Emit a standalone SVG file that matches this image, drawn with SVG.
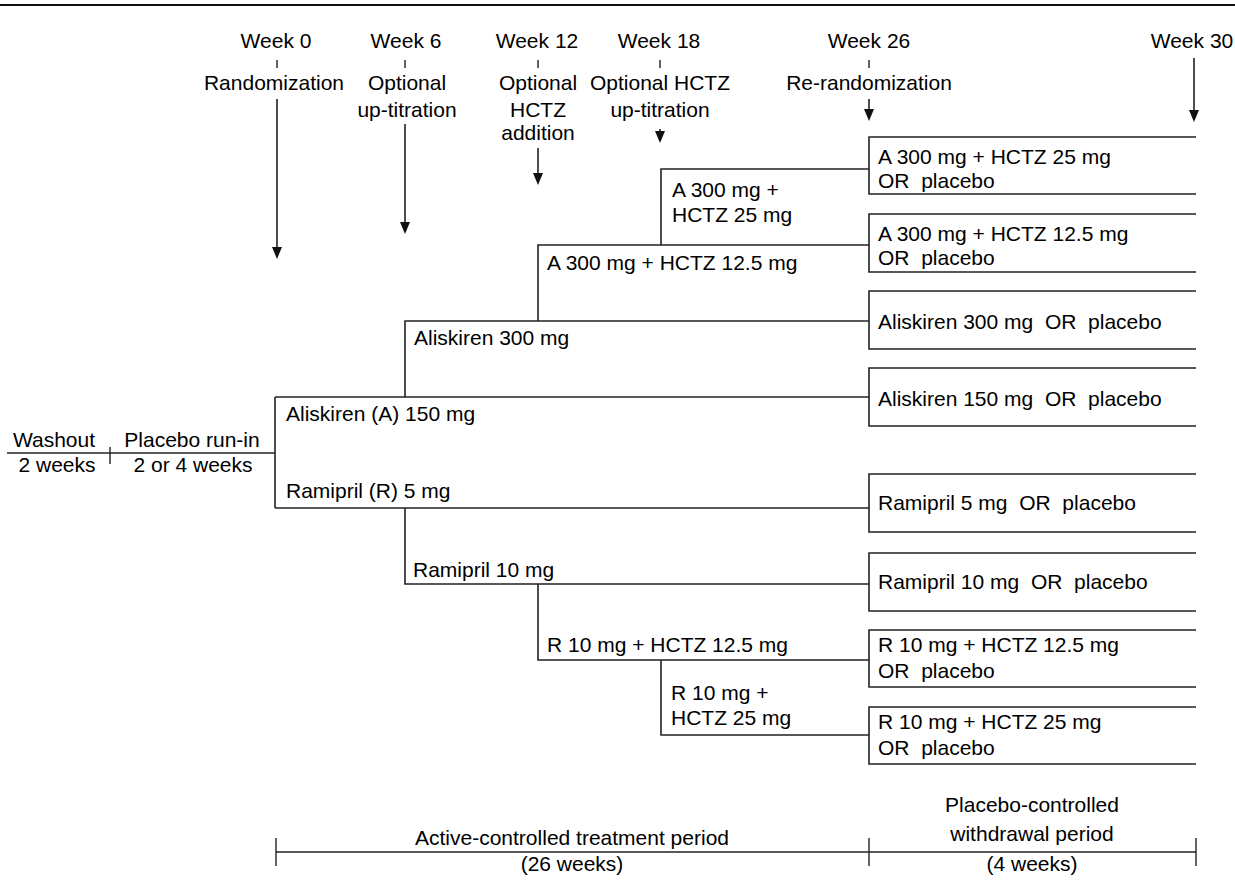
<svg xmlns="http://www.w3.org/2000/svg" width="1235" height="894" viewBox="0 0 1235 894">
<style>
text{font-family:"Liberation Sans",Arial,sans-serif;font-size:21px;fill:#000;white-space:pre}
.c{text-anchor:middle}
.ln{stroke:#222;stroke-width:1.6;fill:none}
.tk{stroke:#222;stroke-width:1.4;fill:none}
.ah{fill:#111}
</style>
<line x1="0" y1="5" x2="1235" y2="5" stroke="#111" stroke-width="2"/>

<g id="timeline">
<text class="c" x="276" y="48">Week 0</text>
<text class="c" x="406" y="48">Week 6</text>
<text class="c" x="537" y="48">Week 12</text>
<text class="c" x="659" y="48">Week 18</text>
<text class="c" x="869" y="48">Week 26</text>
<text class="c" x="1192" y="48">Week 30</text>
<line class="tk" x1="277" y1="60" x2="277" y2="68"/>
<line class="tk" x1="405" y1="60" x2="405" y2="68"/>
<line class="tk" x1="538" y1="60" x2="538" y2="68"/>
<line class="tk" x1="660" y1="60" x2="660" y2="68"/>
<line class="tk" x1="869" y1="60" x2="869" y2="68"/>
<text class="c" x="274" y="90">Randomization</text>
<text class="c" x="407" y="90">Optional</text>
<text class="c" x="407" y="117">up-titration</text>
<text class="c" x="538" y="90">Optional</text>
<text class="c" x="538" y="117">HCTZ</text>
<text class="c" x="538" y="140">addition</text>
<text class="c" x="660" y="90">Optional HCTZ</text>
<text class="c" x="660" y="117">up-titration</text>
<text class="c" x="869" y="90">Re-randomization</text>
</g>

<g id="arrows">
<path d="M277,99 V250" class="ln"/><path class="ah" d="M272,247 L282,247 L277,259 Z"/>
<path d="M405,124 V225" class="ln"/><path class="ah" d="M400,222 L410,222 L405,234 Z"/>
<path d="M538,148 V176" class="ln"/><path class="ah" d="M533,173 L543,173 L538,185 Z"/>
<path d="M660,129 V134" class="ln"/><path class="ah" d="M655,131 L665,131 L660,143 Z"/>
<path d="M869,99 V112" class="ln"/><path class="ah" d="M864,109 L874,109 L869,121 Z"/>
<path d="M1194,58 V113" class="ln"/><path class="ah" d="M1189,110 L1199,110 L1194,122 Z"/>
</g>

<g id="runin">
<line class="ln" x1="7" y1="453" x2="275" y2="453"/>
<line class="tk" x1="110" y1="447" x2="110" y2="464"/>
<text class="c" x="54" y="447">Washout</text>
<text class="c" x="57" y="472">2 weeks</text>
<text class="c" x="192" y="447">Placebo run-in</text>
<text class="c" x="193" y="472">2 or 4 weeks</text>
</g>

<g id="connectors">
<path class="ln" d="M275,397 V508"/>
<path class="ln" d="M275,397 H869"/>
<path class="ln" d="M275,508 H869"/>
<path class="ln" d="M405,397 V321 H869"/>
<path class="ln" d="M538,321 V245 H869"/>
<path class="ln" d="M661,245 V169 H869"/>
<path class="ln" d="M405,508 V584 H869"/>
<path class="ln" d="M538,584 V660 H869"/>
<path class="ln" d="M661,660 V735 H869"/>
</g>

<g id="branch-labels">
<text x="286" y="421">Aliskiren (A) 150 mg</text>
<text x="286" y="498">Ramipril (R) 5 mg</text>
<text x="414" y="345">Aliskiren 300 mg</text>
<text x="413" y="577">Ramipril 10 mg</text>
<text x="547" y="270">A 300 mg + HCTZ 12.5 mg</text>
<text x="547" y="652">R 10 mg + HCTZ 12.5 mg</text>
<text x="672" y="197">A 300 mg +</text>
<text x="672" y="222">HCTZ 25 mg</text>
<text x="671" y="700">R 10 mg +</text>
<text x="671" y="725">HCTZ 25 mg</text>
</g>

<g id="box1"><path class="ln" d="M1196,137 H869 V194 H1196"/><text x="878" y="164">A 300 mg + HCTZ 25 mg</text><text x="878" y="188">OR  placebo</text></g>
<g id="box2"><path class="ln" d="M1196,214 H869 V272 H1196"/><text x="878" y="241">A 300 mg + HCTZ 12.5 mg</text><text x="878" y="265">OR  placebo</text></g>
<g id="box3"><path class="ln" d="M1196,291 H869 V349 H1196"/><text x="878" y="329">Aliskiren 300 mg  OR  placebo</text></g>
<g id="box4"><path class="ln" d="M1196,368 H869 V426 H1196"/><text x="878" y="406">Aliskiren 150 mg  OR  placebo</text></g>
<g id="box5"><path class="ln" d="M1196,474 H869 V532 H1196"/><text x="878" y="510">Ramipril 5 mg  OR  placebo</text></g>
<g id="box6"><path class="ln" d="M1196,553 H869 V611 H1196"/><text x="878" y="589">Ramipril 10 mg  OR  placebo</text></g>
<g id="box7"><path class="ln" d="M1196,630 H869 V687 H1196"/><text x="878" y="652">R 10 mg + HCTZ 12.5 mg</text><text x="878" y="678">OR  placebo</text></g>
<g id="box8"><path class="ln" d="M1196,707 H869 V764 H1196"/><text x="878" y="729">R 10 mg + HCTZ 25 mg</text><text x="878" y="755">OR  placebo</text></g>

<g id="periods">
<line class="ln" x1="276" y1="852" x2="1196" y2="852"/>
<line class="tk" x1="276" y1="838" x2="276" y2="866"/>
<line class="tk" x1="869" y1="838" x2="869" y2="866"/>
<line class="tk" x1="1196" y1="838" x2="1196" y2="866"/>
<text class="c" x="572" y="845">Active-controlled treatment period</text>
<text class="c" x="572" y="871">(26 weeks)</text>
<text class="c" x="1032" y="812">Placebo-controlled</text>
<text class="c" x="1032" y="841">withdrawal period</text>
<text class="c" x="1032" y="871">(4 weeks)</text>
</g>
</svg>
